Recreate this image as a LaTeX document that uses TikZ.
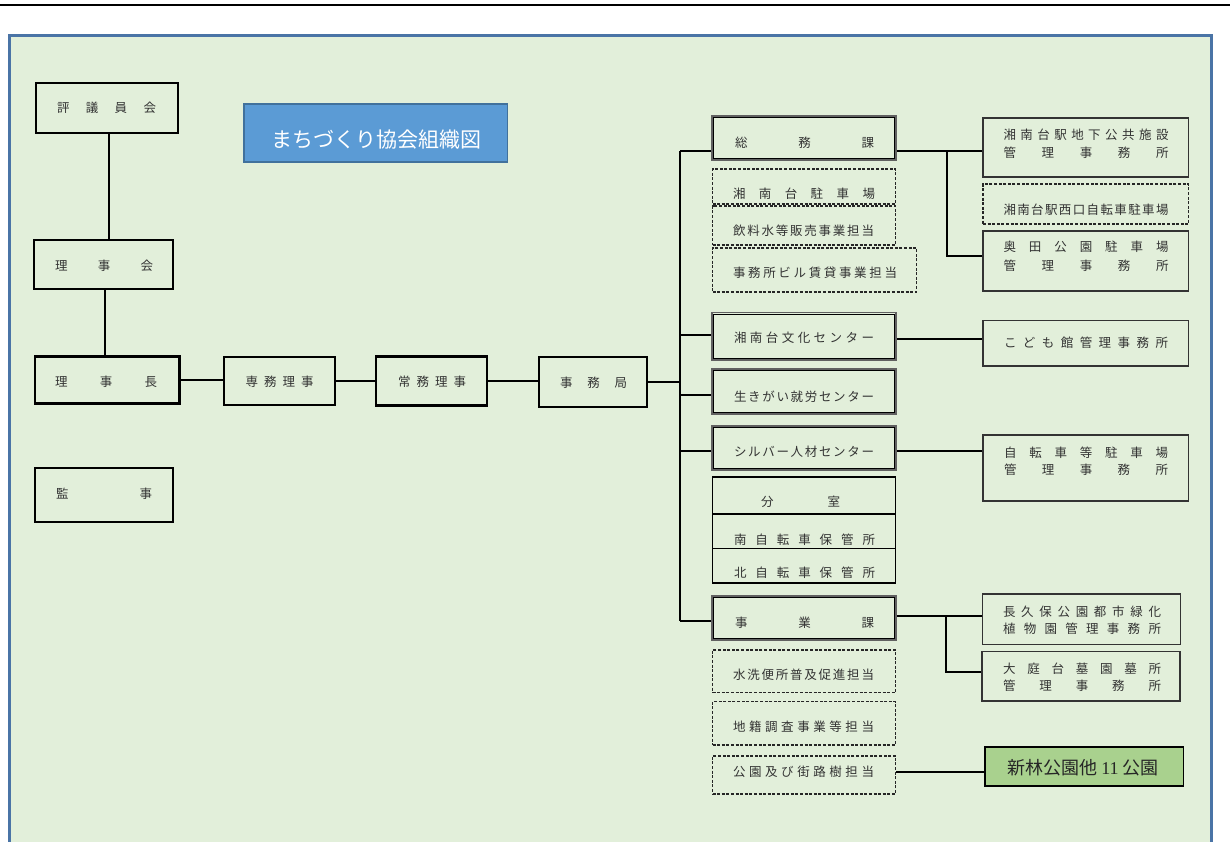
\documentclass[tikz,border=0pt]{standalone}
\usepackage{fontspec}
\setmainfont{Noto Sans CJK JP}
\newfontfamily\latinserif{Liberation Serif}

\definecolor{panelbg}{HTML}{E2EFDA}
\definecolor{panelblue}{HTML}{4A74A6}
\definecolor{titlefill}{HTML}{5B9BD5}
\definecolor{titleline}{HTML}{41719C}
\definecolor{parkfill}{HTML}{A9D18E}
\definecolor{textgray}{HTML}{333333}

% spread the characters of #2 evenly over a width of #1 pt
\makeatletter
\def\spc@first#1{#1\spc@rest}
\def\spc@rest#1{\ifx\relax#1\else\hfill#1\expandafter\spc@rest\fi}
\newcommand\spacedchars[2]{\makebox[#1pt][s]{\spc@first#2\relax}}
\makeatother

% thin inner rule of a framed (section) box
\newcommand\innerframe[1]{%
  \draw[black, line width=0.8pt] ([shift={(2.2,2.2)}]#1.north west) rectangle ([shift={(-2.2,-2.2)}]#1.south east);}

\tikzset{
  lbox/.style={draw=black, line width=2.3pt, inner sep=0pt},
  dbox/.style={draw=black!62, line width=1.6pt, inner sep=0pt},
  sbox/.style={draw=black, line width=1.3pt, inner sep=0pt},
  dashbox/.style={draw=black!85, line width=1.1pt, dash pattern=on 3pt off 1.6pt, inner sep=0pt},
  rbox/.style={draw=black!80, line width=1.4pt, inner sep=0pt},
  txt/.style={inner sep=0pt, text=textgray, font=\fontsize{12.5}{18}\selectfont},
  link/.style={draw=black, line width=2pt},
  trunkline/.style={draw=black, line width=2pt},
}

\begin{document}
\begin{tikzpicture}[x=1pt, y=-1pt]
\clip (0,0) rectangle (1230,841);
\fill[white] (0,0) rectangle (1230,841);

% page rule and panel
\draw[line width=2pt] (0,5) -- (1230,5);
\fill[panelbg] (9.5,35.8) rectangle (1211.5,900);
\draw[panelblue, line width=3pt] (9.5,900) -- (9.5,35.8) -- (1211.5,35.8) -- (1211.5,900);

% title
\node[draw=titleline, line width=1.5pt, fill=titlefill, minimum width=263.5, minimum height=58, inner sep=0pt] (title) at (375.75,133) {};
\node[inner sep=0pt, text=white, font=\fontsize{21}{24}\selectfont] (title-t) at (376,139.5) {まちづくり協会組織図};

% left column
\node[lbox, minimum width=142, minimum height=50] (giin) at (107,108) {};
\node[txt] (giin-t) at (106.5,108) {\spacedchars{99}{評議員会}};
\node[lbox, minimum width=139, minimum height=49] (rijikai) at (103.5,264.5) {};
\node[txt] (rijikai-t) at (104,266) {\spacedchars{98}{理事会}};
\node[lbox, minimum width=144.5, minimum height=47] (rijicho) at (107.25,380) {};
\node[txt] (rijicho-t) at (106,382) {\spacedchars{102}{理事長}};
\node[lbox, minimum width=111, minimum height=48] (senmu) at (279.5,381) {};
\node[txt] (senmu-t) at (279.5,382) {\spacedchars{68}{専務理事}};
\node[lbox, minimum width=111, minimum height=49] (joumu) at (431.5,381) {};
\node[txt] (joumu-t) at (432,381.5) {\spacedchars{68}{常務理事}};
\node[lbox, minimum width=108, minimum height=50] (jimukyoku) at (593,382) {};
\node[txt] (jimukyoku-t) at (593.5,383) {\spacedchars{67}{事務局}};
\node[lbox, minimum width=138, minimum height=54] (kanji) at (104,495) {};
\node[txt] (kanji-t) at (104,494) {\spacedchars{96}{監事}};

% middle column
\node[dbox, minimum width=184, minimum height=44] (soumu) at (804,138) {};
\innerframe{soumu}
\node[txt] (soumu-t) at (804.5,143) {\spacedchars{139}{総務課}};
\node[dashbox, minimum width=183, minimum height=35] (parking) at (804,186.5) {};
\node[txt] (parking-t) at (804,194) {\spacedchars{142}{湘南台駐車場}};
\node[dashbox, minimum width=183, minimum height=39] (inryou) at (804,225.5) {};
\node[txt] (inryou-t) at (803.5,231) {\spacedchars{141}{飲料水等販売事業担当}};
\node[dashbox, minimum width=204, minimum height=44] (bill) at (814.5,270) {};
\node[txt] (bill-t) at (815,273) {\spacedchars{164}{事務所ビル賃貸事業担当}};
\node[dbox, minimum width=184, minimum height=47.3] (bunka) at (804,336.3) {};
\innerframe{bunka}
\node[txt] (bunka-t) at (804,338) {\spacedchars{140}{湘南台文化センター}};
\node[dbox, minimum width=184, minimum height=45] (ikigai) at (804,391.5) {};
\innerframe{ikigai}
\node[txt] (ikigai-t) at (804,396.5) {\spacedchars{140}{生きがい就労センター}};
\node[dbox, minimum width=184, minimum height=44] (silver) at (804,448) {};
\innerframe{silver}
\node[txt] (silver-t) at (804,451.5) {\spacedchars{140}{シルバー人材センター}};
\node[sbox, minimum width=183, minimum height=37] (bunshitsu) at (804,495.5) {};
\node[txt] (bunshitsu-t) at (800.5,502) {\spacedchars{79}{分室}};
\node[sbox, minimum width=183, minimum height=34.7] (minami) at (804,531.35) {};
\node[txt] (minami-t) at (804.5,540) {\spacedchars{141}{南自転車保管所}};
\node[sbox, minimum width=183, minimum height=34.3] (kita) at (804,565.85) {};
\node[txt] (kita-t) at (804.5,573) {\spacedchars{141}{北自転車保管所}};
\node[dbox, minimum width=184, minimum height=44] (jigyou) at (804,618) {};
\innerframe{jigyou}
\node[txt] (jigyou-t) at (804.5,623) {\spacedchars{139}{事業課}};
\node[dashbox, minimum width=183, minimum height=42.7] (suisen) at (804,671.35) {};
\node[txt] (suisen-t) at (803.5,675) {\spacedchars{141}{水洗便所普及促進担当}};
\node[dashbox, minimum width=183, minimum height=43.3] (chiseki) at (804,723.35) {};
\node[txt] (chiseki-t) at (803.5,727) {\spacedchars{141}{地籍調査事業等担当}};
\node[dashbox, minimum width=183, minimum height=38] (kouen) at (804,775) {};
\node[txt] (kouen-t) at (803.5,772) {\spacedchars{141}{公園及び街路樹担当}};

% right column
\node[rbox, minimum width=205.5, minimum height=59] (chika) at (1085.75,147.5) {};
\node[txt, align=center, font=\fontsize{12.5}{18.3}\selectfont] (chika-t) at (1086,144)
  {\spacedchars{165}{湘南台駅地下公共施設}\\\spacedchars{165}{管理事務所}};
\node[dashbox, minimum width=205.5, minimum height=40] (nishiguchi) at (1085.75,204) {};
\node[txt] (nishiguchi-t) at (1086,210) {\spacedchars{165}{湘南台駅西口自転車駐車場}};
\node[rbox, minimum width=205.5, minimum height=60] (okuda) at (1085.75,261) {};
\node[txt, align=center, font=\fontsize{12.5}{19}\selectfont] (okuda-t) at (1086,256.2)
  {\spacedchars{165}{奥田公園駐車場}\\\spacedchars{165}{管理事務所}};
\node[rbox, minimum width=205.5, minimum height=45.3] (kodomo) at (1085.75,343.35) {};
\node[txt] (kodomo-t) at (1086,343) {\spacedchars{164}{こども館管理事務所}};
\node[rbox, minimum width=205.5, minimum height=66] (jitensha) at (1085.75,468) {};
\node[txt, align=center, font=\fontsize{12.5}{17}\selectfont] (jitensha-t) at (1086,461)
  {\spacedchars{164}{自転車等駐車場}\\\spacedchars{164}{管理事務所}};
\node[rbox, minimum width=198, minimum height=50.7] (nagakubo) at (1081.7,619.35) {};
\node[txt, align=center, font=\fontsize{12.5}{17}\selectfont] (nagakubo-t) at (1082,619.8)
  {\spacedchars{158}{長久保公園都市緑化}\\\spacedchars{158}{植物園管理事務所}};
\node[rbox, minimum width=198, minimum height=49.3] (ooba) at (1081,676.35) {};
\node[txt, align=center, font=\fontsize{12.5}{17}\selectfont] (ooba-t) at (1082,677.5)
  {\spacedchars{158}{大庭台墓園墓所}\\\spacedchars{158}{管理事務所}};
\node[draw=black, line width=1.4pt, fill=parkfill, minimum width=198.5, minimum height=39, inner sep=0pt] (shinbayashi) at (1084.25,766.5) {};
\node[inner sep=0pt, text=black!85, font=\fontsize{18}{21}\selectfont] (shinbayashi-t) at (1083,768)
  {新林公園他 {\latinserif 11} 公園};

% connector positions
\coordinate (vx1) at (109,0);
\coordinate (vx2) at (105,0);
\coordinate (trunk) at (680,0);
\coordinate (spine1) at (947,0);
\coordinate (spine2) at (946,0);
\coordinate (lv-soumu) at (0,151);
\coordinate (lv-okuda) at (0,256);
\coordinate (lv-bunka) at (0,335);
\coordinate (lv-kodomo) at (0,339);
\coordinate (lv-ikigai) at (0,395);
\coordinate (lv-silver) at (0,451);
\coordinate (lv-nagakubo) at (0,616);
\coordinate (lv-jigyou) at (0,621);
\coordinate (lv-ooba) at (0,672);
\coordinate (lv-kouen) at (0,772);

% left chain
\draw[link] (giin.south -| vx1) -- (rijikai.north -| vx1);
\draw[link] (rijikai.south -| vx2) -- (rijicho.north -| vx2);
\draw[link] (rijicho.east) -- (rijicho.east -| senmu.west);
\draw[link] (senmu.east) -- (senmu.east -| joumu.west);
\draw[link] (joumu.east) -- (joumu.east -| jimukyoku.west);
\draw[trunkline] (jimukyoku.east) -- (jimukyoku.east -| trunk);

% trunk and its branches
\draw[trunkline] (trunk |- lv-soumu) -- (trunk |- lv-jigyou);
\draw[trunkline] (trunk |- lv-soumu) -- (soumu.west |- lv-soumu);
\draw[trunkline] (trunk |- lv-bunka) -- (bunka.west |- lv-bunka);
\draw[trunkline] (trunk |- lv-ikigai) -- (ikigai.west |- lv-ikigai);
\draw[trunkline] (trunk |- lv-silver) -- (silver.west |- lv-silver);
\draw[trunkline] (trunk |- lv-jigyou) -- (jigyou.west |- lv-jigyou);

% offices on the right
\draw[link] (soumu.east |- lv-soumu) -- (chika.west |- lv-soumu);
\draw[trunkline] (spine1 |- lv-soumu) -- (spine1 |- lv-okuda) -- (okuda.west |- lv-okuda);
\draw[trunkline] (bunka.east |- lv-kodomo) -- (kodomo.west |- lv-kodomo);
\draw[trunkline] (silver.east |- lv-silver) -- (jitensha.west |- lv-silver);
\draw[link] (jigyou.east |- lv-nagakubo) -- (nagakubo.west |- lv-nagakubo);
\draw[trunkline] (spine2 |- lv-nagakubo) -- (spine2 |- lv-ooba) -- (ooba.west |- lv-ooba);
\draw[trunkline] (kouen.east |- lv-kouen) -- (shinbayashi.west |- lv-kouen);
\end{tikzpicture}
\end{document}
